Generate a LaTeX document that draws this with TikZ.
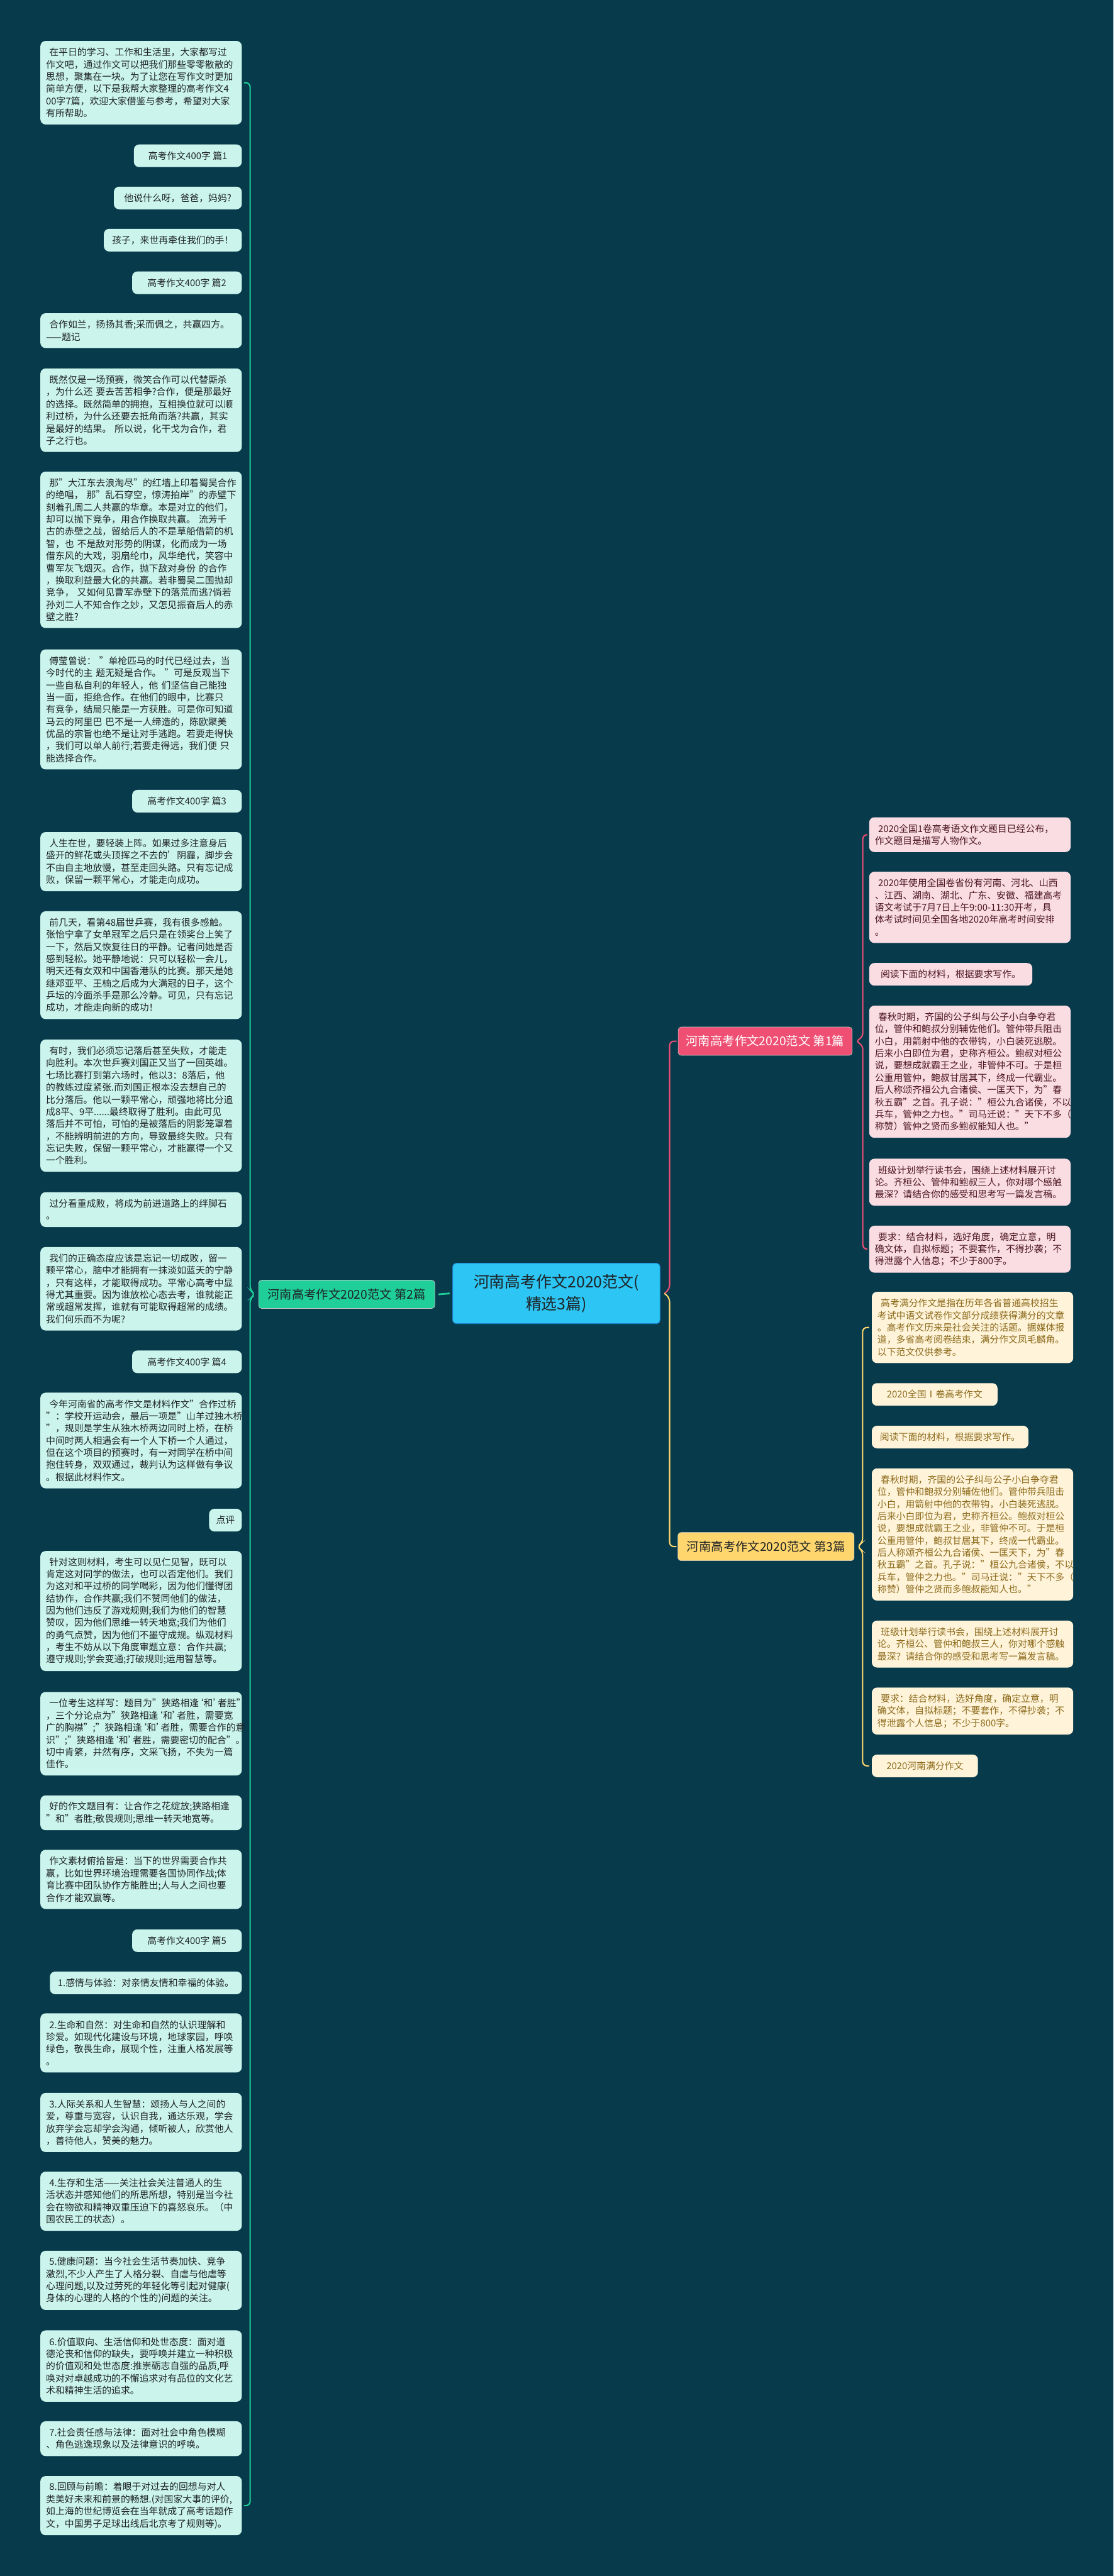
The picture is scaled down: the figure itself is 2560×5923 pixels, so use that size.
\documentclass[tikz,border=0pt]{standalone}
\usepackage{fontspec}
\setmainfont{Noto Sans CJK SC}
\usetikzlibrary{calc}
\definecolor{bgc}{HTML}{073A4B}
\definecolor{mintc}{HTML}{CBF5EC}
\definecolor{inkc}{HTML}{1E2326}
\definecolor{rosec}{HTML}{FADDE3}
\definecolor{rosetxt}{HTML}{4A1420}
\definecolor{creamc}{HTML}{FFF4D9}
\definecolor{creamtxt}{HTML}{8C6A1C}
\definecolor{rootc}{HTML}{2CC5F4}
\definecolor{rootedge}{HTML}{1B7FCB}
\definecolor{redc}{HTML}{EE4F73}
\definecolor{greenc}{HTML}{1FCE98}
\definecolor{goldc}{HTML}{FFD66E}
\newcommand{\indt}{\hspace*{.35em}}
\newcommand{\hhe}{\makebox[.5em][r]{‘}和\makebox[.5em][l]{’}}
\tikzset{%
  card/.style    = {shape=rectangle, rounded corners=12pt, inner xsep=13pt, inner ysep=2pt,%
                    font=\fontsize{21.5}{28}\selectfont, minimum height={#1*28pt+24pt}},%
  card/.default  = 1,%
  para/.style    = {text width=437pt, align=left},%
  mint/.style    = {card=#1, fill=mintc, text=inkc},%
  mint/.default  = 1,%
  rose/.style    = {card=#1, fill=rosec, text=rosetxt},%
  rose/.default  = 1,%
  cream/.style   = {card=#1, fill=creamc, text=creamtxt},%
  cream/.default = 1,%
  topic/.style   = {shape=rectangle, rounded corners=7pt, draw=white!80!black, line width=1pt,%
                    minimum height=65pt, font=\fontsize{28}{34}\selectfont},%
  root/.style    = {shape=rectangle, rounded corners=8pt, fill=rootc, draw=rootedge, line width=1.5pt,%
                    text=inkc, align=center, minimum width=477pt, minimum height=139pt,%
                    font=\fontsize{36}{50}\selectfont},%
  link/.style    = {line width=3pt, rounded corners=10pt}%
}
\begin{document}
\begin{tikzpicture}[x=1pt,y=-1pt]
	\useasboundingbox (0,0) rectangle (2560,5923);
	\fill[bgc] (0,0) rectangle (2560,5923);
	% centre and branches
	\node (main) at (1279,2974) [root] {河南高考作文2020范文(\\精选3篇)};
	\node (b1) at (1759,2394) [topic, fill=redc, text=white, minimum width=400pt] {河南高考作文2020范文~第1篇};
	\node (b2) at (797,2976) [topic, fill=greenc, text=inkc, minimum width=405pt] {河南高考作文2020范文~第2篇};
	\node (b3) at (1761,3556) [topic, fill=goldc, text=inkc, minimum width=405pt] {河南高考作文2020范文~第3篇};
	% left column
	\begin{scope}[every node/.append style={anchor=north east}]
		\node (l1) at (556,94) [mint=6, para] {\indt{}在平日的学习、工作和生活里，大家都写过\\作文吧，通过作文可以把我们那些零零散散的\\思想，聚集在一块。为了让您在写作文时更加\\简单方便，以下是我帮大家整理的高考作文4\\00字7篇，欢迎大家借鉴与参考，希望对大家\\有所帮助。};
		\node (l2) at (556,332) [mint, minimum width=248pt] {高考作文400字~篇1};
		\node (l3) at (556,429) [mint, minimum width=294pt] {他说什么呀，爸爸，妈妈?};
		\node (l4) at (556,526) [mint, minimum width=317pt] {孩子，来世再牵住我们的手！};
		\node (l5) at (556,624) [mint, minimum width=252pt] {高考作文400字~篇2};
		\node (l6) at (556,720) [mint=2, para] {\indt{}合作如兰，扬扬其香;采而佩之，共赢四方。\\——题记};
		\node (l7) at (556,847) [mint=6, para] {\indt{}既然仅是一场预赛，微笑合作可以代替厮杀\\，为什么还~要去苦苦相争?合作，便是那最好\\的选择。既然简单的拥抱，互相换位就可以顺\\利过桥，为什么还要去抵角而落?共赢，其实\\是最好的结果。~所以说，化干戈为合作，君\\子之行也。};
		\node (l8) at (556,1084) [mint=12, para] {\indt{}那"大江东去浪淘尽"的红墙上印着蜀吴合作\\的绝唱，~那"乱石穿空，惊涛拍岸"的赤壁下\\刻着孔周二人共赢的华章。本是对立的他们，\\却可以抛下竞争，用合作换取共赢。~流芳千\\古的赤壁之战，留给后人的不是草船借箭的机\\智，也~不是敌对形势的阴谋，化而成为一场\\借东风的大戏，羽扇纶巾，风华绝代，笑容中\\曹军灰飞烟灭。合作，抛下敌对身份~的合作\\，换取利益最大化的共赢。若非蜀吴二国抛却\\竞争，~又如何见曹军赤壁下的落荒而逃?倘若\\孙刘二人不知合作之妙，又怎见振奋后人的赤\\壁之胜?};
		\node (l9) at (556,1493) [mint=9, para] {\indt{}傅莹曾说：~"单枪匹马的时代已经过去，当\\今时代的主~题无疑是合作。~"可是反观当下\\一些自私自利的年轻人，他~们坚信自己能独\\当一面，拒绝合作。在他们的眼中，比赛只\\有竞争，结局只能是一方获胜。可是你可知道\\马云的阿里巴~巴不是一人缔造的，陈欧聚美\\优品的宗旨也绝不是让对手逃跑。若要走得快\\，我们可以单人前行;若要走得远，我们便~只\\能选择合作。};
		\node (l10) at (556,1816) [mint, minimum width=252pt] {高考作文400字~篇3};
		\node (l11) at (556,1913) [mint=4, para] {\indt{}人生在世，要轻装上阵。如果过多注意身后\\盛开的鲜花或头顶挥之不去的’阴霾，脚步会\\不由自主地放慢，甚至走回头路。只有忘记成\\败，保留一颗平常心，才能走向成功。};
		\node (l12) at (556,2095) [mint=8, para] {\indt{}前几天，看第48届世乒赛，我有很多感触。\\张怡宁拿了女单冠军之后只是在领奖台上笑了\\一下，然后又恢复往日的平静。记者问她是否\\感到轻松。她平静地说：只可以轻松一会儿，\\明天还有女双和中国香港队的比赛。那天是她\\继邓亚平、王楠之后成为大满冠的日子，这个\\乒坛的冷面杀手是那么冷静。可见，只有忘记\\成功，才能走向新的成功！};
		\node (l13) at (556,2390) [mint=10, para] {\indt{}有时，我们必须忘记落后甚至失败，才能走\\向胜利。本次世乒赛刘国正又当了一回英雄。\\七场比赛打到第六场时，他以3：8落后，他\\的教练过度紧张.而刘国正根本没去想自己的\\比分落后。他以一颗平常心，顽强地将比分追\\成8平、9平......最终取得了胜利。由此可见\\落后并不可怕，可怕的是被落后的阴影笼罩着\\，不能辨明前进的方向，导致最终失败。只有\\忘记失败，保留一颗平常心，才能赢得一个又\\一个胜利。};
		\node (l14) at (556,2741) [mint=2, para] {\indt{}过分看重成败，将成为前进道路上的绊脚石\\。};
		\node (l15) at (556,2867) [mint=6, para] {\indt{}我们的正确态度应该是忘记一切成败，留一\\颗平常心，脑中才能拥有一抹淡如蓝天的宁静\\，只有这样，才能取得成功。平常心高考中显\\得尤其重要。因为谁放松心态去考，谁就能正\\常或超常发挥，谁就有可能取得超常的成绩。\\我们何乐而不为呢?};
		\node (l16) at (556,3105) [mint, minimum width=252pt] {高考作文400字~篇4};
		\node (l17) at (556,3202) [mint=7, para] {\indt{}今年河南省的高考作文是材料作文"合作过桥\\"：学校开运动会，最后一项是"山羊过独木桥\\"，规则是学生从独木桥两边同时上桥，在桥\\中间时两人相遇会有一个人下桥一个人通过，\\但在这个项目的预赛时，有一对同学在桥中间\\抱住转身，双双通过，裁判认为这样做有争议\\。根据此材料作文。};
		\node (l18) at (556,3469) [mint, minimum width=75pt] {点评};
		\node (l19) at (556,3566) [mint=9, para] {\indt{}针对这则材料，考生可以见仁见智，既可以\\肯定这对同学的做法，也可以否定他们。我们\\为这对和平过桥的同学喝彩，因为他们懂得团\\结协作，合作共赢;我们不赞同他们的做法，\\因为他们违反了游戏规则;我们为他们的智慧\\赞叹，因为他们思维一转天地宽;我们为他们\\的勇气点赞，因为他们不墨守成规。纵观材料\\，考生不妨从以下角度审题立意：合作共赢;\\遵守规则;学会变通;打破规则;运用智慧等。};
		\node (l20) at (556,3890) [mint=6, para] {\indt{}一位考生这样写：题目为"狭路相逢\hhe{}者胜"\\，三个分论点为"狭路相逢\hhe{}者胜，需要宽\\广的胸襟";"狭路相逢\hhe{}者胜，需要合作的意\\识";"狭路相逢\hhe{}者胜，需要密切的配合"。\\切中肯綮，井然有序，文采飞扬，不失为一篇\\佳作。};
		\node (l21) at (556,4128) [mint=2, para] {\indt{}好的作文题目有：让合作之花绽放;狭路相逢\\"和"者胜;敬畏规则;思维一转天地宽等。};
		\node (l22) at (556,4253) [mint=4, para] {\indt{}作文素材俯拾皆是：当下的世界需要合作共\\赢，比如世界环境治理需要各国协同作战;体\\育比赛中团队协作方能胜出;人与人之间也要\\合作才能双赢等。};
		\node (l23) at (556,4436) [mint, minimum width=252pt] {高考作文400字~篇5};
		\node (l24) at (556,4533) [mint, minimum width=441pt] {1.感情与体验：对亲情友情和幸福的体验。};
		\node (l25) at (556,4629) [mint=4, para] {\indt{}2.生命和自然：对生命和自然的认识理解和\\珍爱。如现代化建设与环境，地球家园，呼唤\\绿色，敬畏生命，展现个性，注重人格发展等\\。};
		\node (l26) at (556,4812) [mint=4, para] {\indt{}3.人际关系和人生智慧：颂扬人与人之间的\\爱，尊重与宽容，认识自我，通达乐观，学会\\放弃学会忘却学会沟通，倾听被人，欣赏他人\\，善待他人，赞美的魅力。};
		\node (l27) at (556,4993) [mint=4, para] {\indt{}4.生存和生活——关注社会关注普通人的生\\活状态并感知他们的所思所想，特别是当今社\\会在物欲和精神双重压迫下的喜怒哀乐。（中\\国农民工的状态）。};
		\node (l28) at (556,5175) [mint=4, para] {\indt{}5.健康问题：当今社会生活节奏加快、竞争\\激烈,不少人产生了人格分裂、自虐与他虐等\\心理问题,以及过劳死的年轻化等引起对健康(\\身体的心理的人格的个性的)问题的关注。};
		\node (l29) at (556,5358) [mint=5, para] {\indt{}6.价值取向、生活信仰和处世态度：面对道\\德沦丧和信仰的缺失，要呼唤并建立一种积极\\的价值观和处世态度:推崇砺志自强的品质,呼\\唤对对卓越成功的不懈追求对有品位的文化艺\\术和精神生活的追求。};
		\node (l30) at (556,5567) [mint=2, para] {\indt{}7.社会责任感与法律：面对社会中角色模糊\\、角色逃逸现象以及法律意识的呼唤。};
		\node (l31) at (556,5693) [mint=4, para] {\indt{}8.回顾与前瞻：着眼于对过去的回想与对人\\类美好未来和前景的畅想.(对国家大事的评价,\\如上海的世纪博览会在当年就成了高考话题作\\文，中国男子足球出线后北京考了规则等)。};
	\end{scope}
	% right column, first branch
	\begin{scope}[every node/.append style={anchor=north west}]
		\node (r1) at (1998,1879) [rose=2, para] {\indt{}2020全国1卷高考语文作文题目已经公布，\\作文题目是描写人物作文。};
		\node (r2) at (1998,2004) [rose=5, para] {\indt{}2020年使用全国卷省份有河南、河北、山西\\、江西、湖南、湖北、广东、安徽、福建高考\\语文考试于7月7日上午9:00-11:30开考，具\\体考试时间见全国各地2020年高考时间安排\\。};
		\node (r3) at (1998,2214) [rose, minimum width=375pt] {阅读下面的材料，根据要求写作。};
		\node (r4) at (1998,2312) [rose=10, para] {\indt{}春秋时期，齐国的公子纠与公子小白争夺君\\位，管仲和鲍叔分别辅佐他们。管仲带兵阻击\\小白，用箭射中他的衣带钩，小白装死逃脱。\\后来小白即位为君，史称齐桓公。鲍叔对桓公\\说，要想成就霸王之业，非管仲不可。于是桓\\公重用管仲，鲍叔甘居其下，终成一代霸业。\\后人称颂齐桓公九合诸侯、一匡天下，为"春\\秋五霸"之首。孔子说："桓公九合诸侯，不以\\兵车，管仲之力也。"司马迁说："天下不多（\\称赞）管仲之贤而多鲍叔能知人也。"};
		\node (r5) at (1998,2664) [rose=3, para] {\indt{}班级计划举行读书会，围绕上述材料展开讨\\论。齐桓公、管仲和鲍叔三人，你对哪个感触\\最深？请结合你的感受和思考写一篇发言稿。};
		\node (r6) at (1998,2818) [rose=3, para] {\indt{}要求：结合材料，选好角度，确定立意，明\\确文体，自拟标题；不要套作，不得抄袭；不\\得泄露个人信息；不少于800字。};
	% right column, third branch
		\node (y1) at (2004,2970) [cream=5, para] {\indt{}高考满分作文是指在历年各省普通高校招生\\考试中语文试卷作文部分成绩获得满分的文章\\。高考作文历来是社会关注的话题。据媒体报\\道，多省高考阅卷结束，满分作文凤毛麟角。\\以下范文仅供参考。};
		\node (y2) at (2004,3180) [cream, minimum width=289pt] {2020全国Ⅰ卷高考作文};
		\node (y3) at (2004,3278) [cream, minimum width=360pt] {阅读下面的材料，根据要求写作。};
		\node (y4) at (2004,3376) [cream=10, para] {\indt{}春秋时期，齐国的公子纠与公子小白争夺君\\位，管仲和鲍叔分别辅佐他们。管仲带兵阻击\\小白，用箭射中他的衣带钩，小白装死逃脱。\\后来小白即位为君，史称齐桓公。鲍叔对桓公\\说，要想成就霸王之业，非管仲不可。于是桓\\公重用管仲，鲍叔甘居其下，终成一代霸业。\\后人称颂齐桓公九合诸侯、一匡天下，为"春\\秋五霸"之首。孔子说："桓公九合诸侯，不以\\兵车，管仲之力也。"司马迁说："天下不多（\\称赞）管仲之贤而多鲍叔能知人也。"};
		\node (y5) at (2004,3726) [cream=3, para] {\indt{}班级计划举行读书会，围绕上述材料展开讨\\论。齐桓公、管仲和鲍叔三人，你对哪个感触\\最深？请结合你的感受和思考写一篇发言稿。};
		\node (y6) at (2004,3880) [cream=3, para] {\indt{}要求：结合材料，选好角度，确定立意，明\\确文体，自拟标题；不要套作，不得抄袭；不\\得泄露个人信息；不少于800字。};
		\node (y7) at (2004,4034) [cream, minimum width=244pt] {2020河南满分作文};
	\end{scope}
	% connectors
	\coordinate (k0) at ([xshift=21pt]main.east);
	\coordinate (k1) at ([xshift=24pt]b1.east);
	\coordinate (k2) at ([xshift=-19pt]b2.west);
	\coordinate (k3) at ([xshift=19pt]b3.east);
	\draw[link, draw=redc] ([xshift=-3pt]b1.west) -| ([yshift=9pt]k0) -- ([xshift=9pt]main.east);
	\draw[link, draw=goldc] ([xshift=-3pt]b3.west) -| ([yshift=-9pt]k0) -- ([xshift=9pt]main.east);
	\draw[line width=4pt, draw=greenc] ([xshift=-6pt]main.west) -- ([xshift=8pt]b2.east);
	\draw[link, draw=greenc] ([xshift=5pt]l1.east) -| ([yshift=9pt]k2) -- ([xshift=-7pt]b2.west) -- ([yshift=-9pt]k2) |- ([xshift=5pt]l31.east);
	\draw[link, draw=redc] ([xshift=-5pt]r1.west) -| ([yshift=9pt]k1) -- ([xshift=7pt]b1.east) -- ([yshift=-9pt]k1) |- ([xshift=-5pt]r6.west);
	\draw[link, draw=goldc] ([xshift=-6pt]y1.west) -| ([yshift=9pt]k3) -- ([xshift=6pt]b3.east) -- ([yshift=-9pt]k3) |- ([xshift=-6pt]y7.west);
\end{tikzpicture}
\end{document}
